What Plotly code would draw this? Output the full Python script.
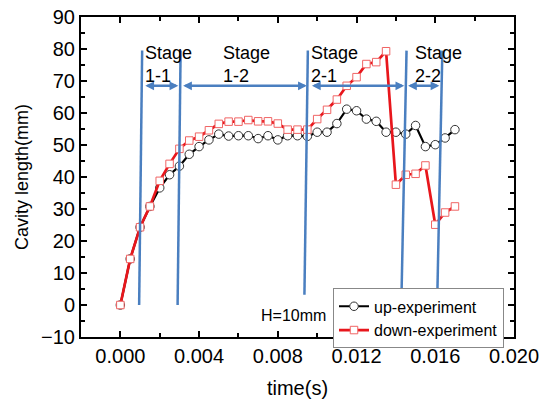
import plotly.graph_objects as go

# ---- data ----
time_s = [0.0, 0.0005, 0.001, 0.0015, 0.002, 0.0025, 0.003, 0.0035, 0.004, 0.0045,
          0.005, 0.0055, 0.006, 0.0065, 0.007, 0.0075, 0.008, 0.0085, 0.009, 0.0095,
          0.010, 0.0105, 0.011, 0.0115, 0.012, 0.0125, 0.013, 0.0135, 0.014, 0.0145,
          0.015, 0.0155, 0.016, 0.0165, 0.017]
up_experiment = [0, 14.4, 24.3, 30.8, 36.6, 40.7, 43.4, 47.1, 49.5, 51.6,
                 53.4, 52.8, 52.9, 52.9, 52.0, 52.9, 51.6, 52.9, 52.9, 52.7,
                 54.0, 54.0, 56.7, 61.2, 60.7, 58.1, 57.4, 54.0, 54.0, 53.4,
                 56.1, 49.5, 50.1, 52.2, 54.8]
down_experiment = [0, 14.4, 24.3, 30.8, 38.8, 44.1, 48.8, 51.4, 52.6, 54.6,
                   56.6, 57.3, 57.3, 57.8, 57.4, 57.4, 56.7, 54.8, 54.8, 54.8,
                   58.1, 61.0, 64.2, 68.5, 71.2, 75.3, 75.9, 79.3, 37.6, 40.7,
                   41.0, 43.6, 25.1, 28.9, 30.8]

# stage boundary lines (slightly slanted), bottom and top ends
stage_line_t_bottom = [0.000954, 0.002908, 0.009352, 0.01429, 0.01611]
stage_line_v_bottom = [0.0, 0.0, 3.2, 4.8, 4.8]
stage_line_t_top = [0.001107, 0.003061, 0.009526, 0.01454, 0.01636]
stage_line_v_top = [79.5, 79.5, 79.5, 79.5, 79.5]

# double-headed arrows spanning each stage
arrow_v = 68.5
arrow_t_left = [0.00119, 0.003112, 0.009658, 0.014541]
arrow_t_right = [0.002944, 0.009474, 0.014423, 0.016209]

# stage labels
stage_labels = ["Stage<br>1-1", "Stage<br>1-2", "Stage<br>2-1", "Stage<br>2-2"]
stage_label_t = [0.00117, 0.00513, 0.00958, 0.01489]
stage_label_v = [82.6, 82.6, 82.6, 82.6]

note_text = "H=10mm"
note_t = 0.00703
note_v = -3.3

x_tickvals = [0.000, 0.004, 0.008, 0.012, 0.016, 0.020]
y_tickvals = [-10, 0, 10, 20, 30, 40, 50, 60, 70, 80, 90]

FONT = "Liberation Sans, Arial, sans-serif"
BLUE = "#4a7fc0"

fig = go.Figure()

fig.add_trace(go.Scatter(
    x=time_s, y=up_experiment, mode="lines+markers", name="up-experiment",
    line=dict(color="black", width=2.2),
    marker=dict(symbol="circle", size=8.5, color="white",
                line=dict(color="#333333", width=1)),
))
fig.add_trace(go.Scatter(
    x=time_s, y=down_experiment, mode="lines+markers", name="down-experiment",
    line=dict(color="#e8161c", width=2.7),
    marker=dict(symbol="square", size=7.5, color="white",
                line=dict(color="#f06464", width=1)),
))

for tb, vb, tt, vt in zip(stage_line_t_bottom, stage_line_v_bottom,
                          stage_line_t_top, stage_line_v_top):
    fig.add_trace(go.Scatter(x=[tb, tt], y=[vb, vt], mode="lines",
                             line=dict(color=BLUE, width=2.5),
                             showlegend=False, hoverinfo="skip"))

annotations = []
for tl, tr in zip(arrow_t_left, arrow_t_right):
    annotations.append(dict(
        x=tr, y=arrow_v, ax=tl, ay=arrow_v, xref="x", yref="y",
        axref="x", ayref="y", text="", showarrow=True,
        arrowhead=2, startarrowhead=2, arrowside="end+start",
        arrowsize=0.7, startarrowsize=0.7, arrowwidth=2.5,
        arrowcolor=BLUE, standoff=0, startstandoff=0,
    ))
for txt, t, v in zip(stage_labels, stage_label_t, stage_label_v):
    annotations.append(dict(
        x=t, y=v, xref="x", yref="y", text=txt, showarrow=False,
        xanchor="left", yanchor="top", align="left",
        font=dict(family=FONT, size=18, color="black"),
    ))
annotations.append(dict(
    x=note_t, y=note_v, xref="x", yref="y", text=note_text, showarrow=False,
    xanchor="left", yanchor="middle",
    font=dict(family=FONT, size=16, color="black"),
))

fig.update_layout(
    width=545, height=400,
    margin=dict(l=81, r=31, t=17, b=63, autoexpand=False),
    paper_bgcolor="white", plot_bgcolor="white",
    font=dict(family=FONT, color="black"),
    showlegend=True,
    legend=dict(x=0.582, y=0.152, xanchor="left", yanchor="top",
                bgcolor="white", bordercolor="#888888", borderwidth=1,
                font=dict(family=FONT, size=16, color="black"),
                tracegroupgap=0),
    annotations=annotations,
)

fig.update_xaxes(
    range=[-0.002, 0.020], tickvals=x_tickvals, tickformat=".3f",
    ticks="inside", ticklen=6, tickwidth=2, tickcolor="black",
    minor=dict(dtick=0.002, tick0=0, ticks="inside", ticklen=4, tickwidth=2, tickcolor="black"),
    showline=True, linewidth=2, linecolor="black", mirror="ticks",
    showgrid=False, zeroline=False, automargin=False,
    tickfont=dict(family=FONT, size=20, color="black"),
    title=dict(text="time(s)", font=dict(family=FONT, size=20, color="black"), standoff=15),
)
fig.update_yaxes(
    range=[-10, 90], tickvals=y_tickvals,
    ticks="inside", ticklen=6, tickwidth=2, tickcolor="black",
    minor=dict(dtick=5, tick0=0, ticks="inside", ticklen=4, tickwidth=2, tickcolor="black"),
    showline=True, linewidth=2, linecolor="black", mirror="ticks",
    showgrid=False, zeroline=False, automargin=False,
    tickfont=dict(family=FONT, size=20, color="black"),
    title=dict(text="Cavity length(mm)", font=dict(family=FONT, size=18, color="black"), standoff=8),
)

fig.write_html("out.html", config={"displayModeBar": False},
               post_script="document.body.style.margin='0px';")
